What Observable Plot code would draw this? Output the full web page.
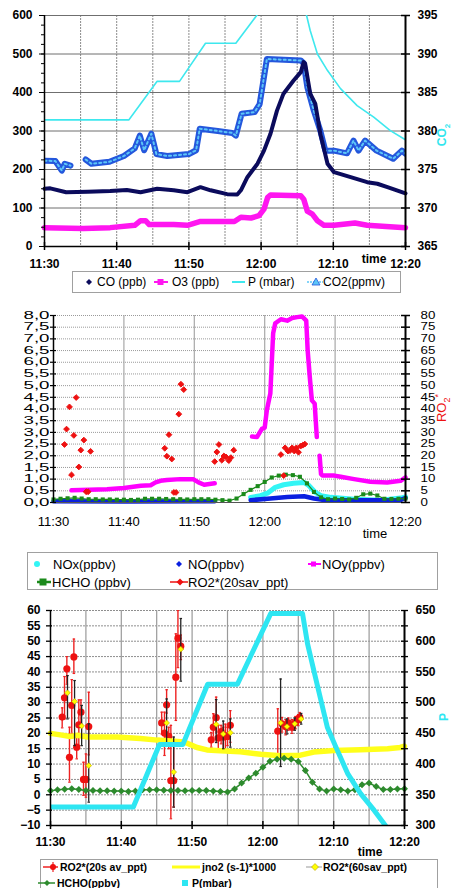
<!DOCTYPE html>
<html><head><meta charset="utf-8">
<script src="https://cdn.jsdelivr.net/npm/d3@7"></script>
<script src="https://cdn.jsdelivr.net/npm/@observablehq/plot@0.6"></script>
<style>
body{margin:0;background:#fff;font-family:"Liberation Sans",Arial,sans-serif;}
#wrap{position:relative;width:453px;height:888px;overflow:hidden;background:#fff;}
.abs{position:absolute;white-space:nowrap;line-height:1;}
.box{position:absolute;border:1px solid #a0a0a0;background:#fff;}
svg.mk{position:absolute;overflow:visible;}
</style></head>
<body><div id="wrap"></div>
<script>
// ---------- time: minutes after 11:30 ----------
const tickTimes = [0,10,20,30,40,50];

// ---------- Panel 1 ----------
const coT = [0,0.8,3,6,9.1,11.4,13.3,15.6,17.9,19.8,21.6,23,25.3,26.7,27.2,28.1,29.5,30.4,31.3,32.2,33.1,34.5,35.5,35.9,36.1,36.8,37.5,38.2,39.2,40.1,42.4,44.7,46.1,47.5,50];
const coV = [150,151,141,142,144,147,141,150,146,141,154,146,136,135,146,180,215,249,293,353,397,431,453,479,475,397,371,293,215,193,180,167,163,154,138];
const o3T = [0,5.4,9.1,12.5,13.3,14,14.5,17.9,19.8,21.6,26.3,27.2,28.6,29.7,30.4,30.9,31.3,35.5,35.9,36.4,37.1,37.8,38.7,40.1,43,44.7,47.3,50];
const o3V = [49,47,49,55,67,67,57,57,55,65,65,76,74,80,97,127,134,132,123,92,84,67,55,55,61,55,52,49];
const pT1 = [0,11.7,15.6,18.7,22.3,26.5,31.2,35.6,36.3,36.8,37.8,39.2,41,43.3,45.6,47.9,50];
const pV1 = [329,329,429,429,528,528,645,645,600,561,500,457,410,366,336,301,277];
const co2T = [0,1.5,2.4,2.8,3.6,4.6,5.7,6.5,9,11,12.5,13.2,13.8,14.8,15.5,17,20,21,21.5,24,26,26.5,27.3,29.1,29.8,30.4,30.8,35.5,35.9,36.4,37.3,38.2,38.9,40.1,41.9,42.8,43.5,44.4,46,48.3,49.5,50];
const co2V = [376.15,376.1,374.85,375.75,375.5,null,376.3,375.75,376.0,376.75,377.75,379.4,377.5,379.65,377.0,376.75,377.0,377.5,380.3,380.0,379.75,379.4,382.25,382.45,383.5,387.0,389.35,389.15,388.8,385.7,382.65,380.05,377.45,377.45,377.1,378.75,377.45,378.75,377.45,376.4,377.45,377.05];

// ---------- Panel 2 ----------
const noxT = [28,29.4,30.4,31.5,32.7,34.1,35.6,36.3,37.2,38,39.4,42.7,46.5,49.3,50];
const noxV = [0.22,0.29,0.40,0.65,0.76,0.82,0.86,0.72,0.43,0.29,0.22,0.14,0.10,0.19,0.24];
const noT = [0,10,22.9,25,28,30.8,33.2,35.6,37,38.4,42.7,49.3,50];
const noV = [0.05,0.04,0.05,null,0.10,0.17,0.24,0.27,0.17,0.11,0.10,0.11,0.19];
const noyT = [2.56,7.6,10,12.4,13.8,14.5,15.2,16.1,18,19.9,20.6,21.4,22.9,25,28.2,28.9,29.6,30.0,30.3,30.8,31.2,31.5,32.3,33.2,33.9,34.6,35.3,35.9,36.1,36.4,36.7,37.1,37.4,37.6,37.8,38.0,38.2,39.9,40.8,42.7,45.0,47.4,49.3,50];
const noyV = [0.52,0.57,0.62,0.72,0.74,0.86,0.93,0.96,1.0,0.99,0.86,0.76,0.82,null,2.82,2.8,3.15,3.2,3.94,4.66,7.24,7.67,7.84,7.78,7.89,7.93,7.96,7.78,6.52,5.38,4.37,4.23,2.8,null,2.0,1.22,1.15,1.15,1.1,1.0,0.89,0.86,0.93,1.07];
const hcho2T = [0,1,2,3,4,5,6,7,8,9,10,11,12,13,14,15,16,17,18,19,20,21,22,23,24,25,26,27,28,29,30,31,32,33,34,35,36,37,38,39,40,41,42,43,44,45,46,47,48,49,50];
const hcho2V = [0.13,0.16,0.18,0.2,0.17,0.14,0.14,0.13,0.13,0.12,0.12,0.11,0.12,0.16,0.16,0.16,0.15,0.14,0.14,0.13,0.14,0.14,0.14,0.12,0.10,0.08,0.17,0.36,0.54,0.70,0.88,1.07,1.15,1.19,1.17,1.10,0.82,0.45,0.22,0.14,0.17,0.15,0.13,0.20,0.35,0.38,0.30,0.16,0.15,0.16,0.17];
const ro2aT = [1.56,1.85,2.27,2.56,2.89,3.22,3.6,3.88,4.31,4.64,4.92,5.26,15.8,16.1,16.4,16.8,17.1,17.4,17.8,18.1,18.5,22.9,23.2,23.5,23.9,24.2,24.5,24.9,25.2,25.6,32.3,32.7,32.9,33.3,33.6,33.9,34.2,34.5,34.8,35.1,35.4,35.7];
const ro2aV = [24.8,31.4,40.9,11.8,28.7,44.9,15.2,22.4,26.7,4.6,4.6,21.9,23.2,19.8,29.0,18.6,4.3,4.3,37.8,50.6,48.3,17.5,21.6,24.8,18.1,19.9,19.5,17.9,19.2,22.4,20.5,11.5,23.4,22.0,22.2,23.4,22.0,23.4,21.5,24.1,24.5,25.0];

// ---------- Panel 3 ----------
const r20T  = [1.65,1.98,2.31,2.68,3.0,3.3,3.7,4.0,4.3,4.66,5.0,5.4,15.7,16.1,16.4,16.7,17.0,17.4,17.7,18.0,18.4,22.7,23.0,23.4,23.7,24.1,24.4,24.7,25.0,25.4,32.1,32.7,33.2,33.6,34.1,34.6,35.0,35.2];
const r20V  = [25.3,31.6,41.0,12.2,29.1,44.9,15.5,22.8,26.9,5.0,5.0,22.2,23.4,20.1,29.3,19.0,4.6,4.6,38.3,51.0,48.4,17.9,22.0,25.1,18.5,20.6,18.8,19.3,19.0,22.6,20.7,23.1,22.2,23.4,22.0,23.6,24.7,25.3];
const r20Lo = [21.8,24.7,36.0,4.1,20.0,39.5,11.7,16.0,22.0,-0.2,-0.8,13.0,19.8,12.8,26.6,15.0,-7.8,-4.0,24.2,41.4,44.0,15.5,18.8,20.4,15.0,16.6,15.0,14.0,16.0,17.1,13.3,20.4,19.5,21.0,20.0,21.5,22.5,23.5];
const r20Hi = [28.3,38.5,45.0,22.0,37.5,50.7,19.3,30.9,30.9,10.6,13.3,33.4,26.9,26.9,34.2,22.0,22.6,18.0,52.4,60.0,52.0,20.3,26.4,31.8,22.6,22.6,22.0,23.0,22.0,27.4,28.0,25.2,24.5,25.0,24.5,25.5,26.0,26.8];
const r60T  = [2.4,3.4,4.4,5.4,16.4,17.4,18.4,23.4,24.4,25.4,32.5,33.4,34.5,35.4];
const r60V  = [33.2,30.4,22.4,9.5,23.4,7.4,47.4,22.9,19.8,20.2,23.4,22.2,23.1,24.7];
const r60Lo = [24.7,16.0,16.0,-2.4,16.4,-4.0,37.0,17.0,15.0,15.5,9.2,19.8,21.0,23.0];
const r60Hi = [38.8,37.2,29.1,23.1,31.2,18.8,57.4,31.0,24.0,24.7,37.7,24.7,25.0,26.5];
const jT = [0,1.4,2.8,3.8,5.2,9.4,12.7,15.1,18.4,19.3,20.7,22.1,24,26.8,29.7,32.5,35.3,37.2,40,43.8,47.6,49.4,50];
const jV = [20.0,19.5,19.0,19.4,18.8,18.8,18.3,17.8,17.3,16.8,15.4,14.6,14.3,14.0,13.2,12.7,12.9,13.9,14.4,14.7,15.0,15.4,15.8];
const hcho3T = [0,1,2,3,4,5,6,7,8,9,10,11,12,13,14,15,16,17,18,19,20,21,22,23,24,25,26,27,28,29,30,31,32,33,34,35,36,37,38,39,40,41,42,43,44,45,46,47,48,49,50];
const hcho3V = [1.3,1.6,1.8,2.0,1.7,1.4,1.4,1.3,1.3,1.2,1.2,1.1,1.2,1.6,1.6,1.6,1.5,1.4,1.4,1.3,1.4,1.4,1.4,1.2,1.1,0.9,1.9,3.8,5.5,7.0,9.0,10.9,11.6,11.9,11.6,10.8,7.9,4.1,1.9,1.2,1.9,1.6,1.2,1.6,3.3,3.8,2.7,1.7,1.7,1.9,2.0];
const pT3 = [0,11.7,15.4,18.7,22.2,26.4,31.1,35.6,36.3,37.2,39.1,40.3,42,43.8,45.7,47.3];
const pV3 = [330,330,432,432,530,530,645,645,596,552,460,428,384,352,325,300];

// ---------- helpers ----------
const zip = (t, v, extra={}) => t.map((x,i)=>{const o={t:x, v:v[i]}; for (const k in extra) o[k]=extra[k][i]; return o;});
const fmtTime = m => { const tot = 690 + m; return `${Math.floor(tot/60)}:${String(Math.round(tot%60)).padStart(2,"0")}`; };
const nn = f => d => d.v == null ? NaN : f(d.v);
const wrap = document.getElementById("wrap");
function place(el, top){ el.style.position="absolute"; el.style.left="0px"; el.style.top=top+"px"; wrap.appendChild(el); }
function txt(x, y, html, css="", anchor="left"){
  const d=document.createElement("div"); d.className="abs"; d.innerHTML=html;
  d.style.cssText += `left:${x}px;top:${y}px;${css}`;
  d.style.transform = anchor==="center" ? "translate(-50%,-50%)" : "translateY(-50%)";
  wrap.appendChild(d); return d;
}
function box(x,y,w,h){const d=document.createElement("div");d.className="box";d.style.cssText+=`left:${x}px;top:${y}px;width:${w}px;height:${h}px;`;wrap.appendChild(d);}
function mk(x,y,inner){ const s=document.createElementNS("http://www.w3.org/2000/svg","svg"); s.setAttribute("class","mk"); s.setAttribute("width",40); s.setAttribute("height",16); s.style.left=(x-20)+"px"; s.style.top=(y-8)+"px"; s.innerHTML=inner; wrap.appendChild(s); }
const FONT = '"Liberation Sans", Arial, sans-serif';

// ================= Panel 1 =================
{
  const W=453,H=272,mt=15,mb=26,ml=44,mr=48;
  const kx=(W-ml-mr)/50, ky=(H-mt-mb)/600;
  const co=zip(coT,coV), o3=zip(o3T,o3V), p1=zip(pT1,pV1), co2=zip(co2T,co2V);
  const co2y = nn(v => (v-365)*20);
  const svg = Plot.plot({
    width:W,height:H,marginTop:mt,marginBottom:mb,marginLeft:ml,marginRight:mr,
    x:{domain:[0,50]}, y:{domain:[0,600]},
    style:{fontFamily:FONT,fontSize:"12px",background:"transparent",overflow:"visible",color:"#000"},
    marks:[
      Plot.ruleX(d3.range(5,50,5),{stroke:"#8c8c8c",strokeWidth:1,strokeDasharray:"2,1"}),
      Plot.ruleY(d3.range(100,601,100),{stroke:"#6f6f6f",strokeWidth:1}),
      Plot.line(p1,{x:"t",y:"v",stroke:"#3ee8ee",strokeWidth:1.6,clip:true}),
      Plot.line(co2,{x:"t",y:co2y,stroke:"#2457dc",strokeWidth:6,clip:true}),
      Plot.line(co2,{x:"t",y:co2y,stroke:"#5cc6f7",strokeWidth:2,strokeDasharray:"2,3",clip:true}),
      Plot.line(co,{x:"t",y:"v",stroke:"#0b0b5c",strokeWidth:4}),
      Plot.line(o3,{x:"t",y:"v",stroke:"#ff16f0",strokeWidth:5.5}),
      Plot.ruleX([0],{stroke:"#000",strokeWidth:1.5}),
      Plot.ruleX([50],{stroke:"#000",strokeWidth:2}),
      Plot.ruleY([0],{stroke:"#000",strokeWidth:1.5}),
      Plot.axisY({anchor:"left",ticks:d3.range(0,601,25),tickSize:3,tickFormat:()=>"",label:null}),
      Plot.axisY({anchor:"left",ticks:d3.range(0,601,100),tickSize:5,tickPadding:7,fontWeight:"bold",fontSize:12,label:null}),
      Plot.ruleY(d3.range(0,601,100),{x1:50-4/kx,x2:50+5/kx,stroke:"#000",strokeWidth:1.5}),
      Plot.axisY({anchor:"right",ticks:d3.range(0,601,100),tickSize:0,tickPadding:12,tickFormat:d=>365+d/20,fontWeight:"bold",fontSize:12,label:null}),
      Plot.ruleX(tickTimes,{y1:-4/ky,y2:4/ky,stroke:"#000",strokeWidth:1.5}),
      Plot.axisX({ticks:tickTimes,tickSize:0,tickPadding:13,tickFormat:fmtTime,fontWeight:"bold",fontSize:12,label:null})
    ]
  });
  place(svg,0);
  txt(374,259,"time","font-weight:bold;font-size:12px;","center");
  const c=txt(444,135,"CO<sub style='font-size:8px'>2</sub>","color:#33e6ee;font-weight:bold;font-size:12px;","center");
  c.style.transform="translate(-50%,-50%) rotate(-90deg)";
  box(72,271,327,20);
  mk(89,282,'<path d="M20,5 L23,8 L20,11 L17,8Z" fill="#0b0b5c"/>');
  txt(97,282,"CO (ppb)","font-size:12px;");
  mk(161,282,'<line x1="13" y1="8" x2="27" y2="8" stroke="#ff16f0" stroke-width="2"/><rect x="16.5" y="5" width="6" height="6" fill="#ff16f0"/>');
  txt(172,282,"O3 (ppb)","font-size:12px;");
  mk(239,282,'<line x1="13" y1="8" x2="26" y2="8" stroke="#3ee8ee" stroke-width="2"/>');
  txt(248,282,"P (mbar)","font-size:12px;");
  mk(316,282,'<line x1="11" y1="8" x2="27" y2="8" stroke="#5cc6f7" stroke-width="1.5" stroke-dasharray="2,1"/><path d="M20,4 L24,11 L16,11Z" fill="#5cc6f7" stroke="#2457dc" stroke-width="0.8"/>');
  txt(323,282,"CO2(ppmv)","font-size:12px;");
}

// ================= Panel 2 =================
{
  const W=453,H=240,mt=15,mb=38,ml=53,mr=48, top=300;
  const kx=(W-ml-mr)/50, ky=(H-mt-mb)/8;
  const nox=zip(noxT,noxV), no=zip(noT,noV), noy=zip(noyT,noyV), hc=zip(hcho2T,hcho2V), ro2=zip(ro2aT,ro2aV);
  const yTicks=d3.range(0,8.01,0.5);
  const svg = Plot.plot({
    width:W,height:H,marginTop:mt,marginBottom:mb,marginLeft:ml,marginRight:mr,
    x:{domain:[0,50]}, y:{domain:[0,8]},
    style:{fontFamily:FONT,fontSize:"13px",background:"transparent",overflow:"visible",color:"#000"},
    marks:[
      Plot.ruleY(yTicks.slice(1),{stroke:"#9a9a9a",strokeWidth:1,strokeDasharray:"1,1"}),
      Plot.ruleX([10,20,30,40],{stroke:"#a8a8a8",strokeWidth:1.2}),
      Plot.line(nox,{x:"t",y:nn(v=>v),stroke:"#33f5f5",strokeWidth:5}),
      Plot.line(no,{x:"t",y:nn(v=>v),stroke:"#0a1fe0",strokeWidth:4.5}),
      Plot.line(noy,{x:"t",y:nn(v=>v),stroke:"#ff00ff",strokeWidth:4.5}),
      Plot.line(hc,{x:"t",y:"v",stroke:"#1b8a1b",strokeWidth:1.2}),
      Plot.dot(hc,{x:"t",y:"v",symbol:"square",r:2.3,fill:"#1b8a1b"}),
      Plot.dot(ro2,{x:"t",y:d=>d.v/10,symbol:"diamond2",r:2.6,fill:"#ee1111",stroke:"#ee1111",strokeWidth:1}),
      Plot.ruleX([0],{stroke:"#000",strokeWidth:1.5}),
      Plot.ruleX([50],{stroke:"#000",strokeWidth:2}),
      Plot.ruleY([0],{stroke:"#555",strokeWidth:1.2}),
      Plot.ruleY(yTicks,{x1:-3/kx,x2:3/kx,stroke:"#000",strokeWidth:1.2}),
      Plot.axisY({anchor:"left",ticks:yTicks,tickSize:0,tickPadding:4,tickFormat:d=>d.toFixed(1).replace(".",","),fontSize:10,label:null}),
      Plot.ruleY(yTicks,{x1:50-4/kx,x2:50+5/kx,stroke:"#000",strokeWidth:1.5}),
      Plot.axisY({anchor:"right",ticks:yTicks,tickSize:0,tickPadding:15,tickFormat:d=>Math.round(d*10),fontSize:10,label:null}),
      Plot.axisX({ticks:tickTimes,tickSize:0,tickPadding:14,tickFormat:fmtTime,fontSize:13,label:null})
    ]
  });
  // widen the compressed-looking y tick labels
  svg.querySelectorAll('g[aria-label="y-axis tick label"]').forEach(g => {
    const anchor = g.getAttribute("text-anchor");
    g.querySelectorAll("text").forEach(t => {
      const n = t.textContent.length;
      t.setAttribute("lengthAdjust","spacingAndGlyphs");
      t.setAttribute("textLength", anchor === "end" ? 26 : 7.4*n);
    });
  });
  place(svg,top);
  txt(375,533,"time","font-size:13px;","center");
  const r=txt(443,408,"RO<sub style='font-size:9px'>2</sub><sup style='font-size:9px'>*</sup>","color:#ee1111;font-size:13px;","center");
  r.style.transform="translate(-50%,-50%) rotate(-90deg)";
  box(27,552,409,36);
  mk(37,564,'<circle cx="20" cy="8" r="3" fill="#33f5f5"/>');
  txt(53,564,"NOx(ppbv)","font-size:13px;");
  mk(179,564,'<path d="M20,5 L23,8 L20,11 L17,8Z" fill="#0a1fe0"/>');
  txt(188,564,"NO(ppbv)","font-size:13px;");
  mk(314,564,'<line x1="14" y1="8" x2="27" y2="8" stroke="#ff00ff" stroke-width="2"/><rect x="17" y="5.5" width="5" height="5" fill="#ff00ff"/>');
  txt(322,564,"NOy(ppbv)","font-size:13px;");
  mk(43,582,'<line x1="14" y1="8" x2="28" y2="8" stroke="#1b8a1b" stroke-width="2.5"/><rect x="16.5" y="4.5" width="7" height="7" fill="#1b8a1b"/>');
  txt(52,582,"HCHO (ppbv)","font-size:13px;");
  mk(180,582,'<line x1="10" y1="8" x2="28" y2="8" stroke="#ee1111" stroke-width="1.5"/><path d="M20,4.5 L23.5,8 L20,11.5 L16.5,8Z" fill="#ee1111"/>');
  txt(188,582,"RO2*(20sav_ppt)","font-size:13px;");
}

// ================= Panel 3 =================
{
  const W=453,H=263,mt=15,mb=33,ml=50,mr=49, top=595;
  const kx=(W-ml-mr)/50, ky=(H-mt-mb)/70;
  const pY = nn(v => (v-300)/5 - 10);
  const r20=zip(r20T,r20V,{lo:r20Lo,hi:r20Hi}), r60=zip(r60T,r60V,{lo:r60Lo,hi:r60Hi});
  const jn=zip(jT,jV), hc=zip(hcho3T,hcho3V), p3=zip(pT3,pV3);
  const yTicks=d3.range(-10,60.1,5);
  const cap=0.18;
  const svg = Plot.plot({
    width:W,height:H,marginTop:mt,marginBottom:mb,marginLeft:ml,marginRight:mr,
    x:{domain:[0,50]}, y:{domain:[-10,60]},
    style:{fontFamily:FONT,fontSize:"12px",background:"transparent",overflow:"visible",color:"#000"},
    marks:[
      Plot.ruleY(yTicks.slice(1),{stroke:"#8e8e8e",strokeWidth:1,strokeDasharray:"2,1"}),
      Plot.ruleX(d3.range(5,50,5),{stroke:"#9a9a9a",strokeWidth:1.2}),
      Plot.ruleX(r20,{x:"t",y1:"lo",y2:"hi",stroke:"#ee2222",strokeWidth:1.4,clip:true}),
      Plot.link(r20,{x1:d=>d.t-cap,x2:d=>d.t+cap,y1:"hi",y2:"hi",stroke:"#ee2222",strokeWidth:1.2,clip:true}),
      Plot.link(r20,{x1:d=>d.t-cap,x2:d=>d.t+cap,y1:"lo",y2:"lo",stroke:"#ee2222",strokeWidth:1.2,clip:true}),
      Plot.dot(r20,{x:"t",y:"v",r:3.6,fill:"#ee1111"}),
      Plot.line(jn,{x:"t",y:"v",stroke:"#ffff1a",strokeWidth:5.5}),
      Plot.ruleX(r60,{x:"t",y1:"lo",y2:"hi",stroke:"#222",strokeWidth:1.3,clip:true}),
      Plot.link(r60,{x1:d=>d.t-cap,x2:d=>d.t+cap,y1:"hi",y2:"hi",stroke:"#222",strokeWidth:1.2,clip:true}),
      Plot.link(r60,{x1:d=>d.t-cap,x2:d=>d.t+cap,y1:"lo",y2:"lo",stroke:"#222",strokeWidth:1.2,clip:true}),
      Plot.dot(r60,{x:"t",y:"v",symbol:"diamond2",r:2.6,fill:"#ffff00",stroke:"#b8a000",strokeWidth:0.6}),
      Plot.line(hc,{x:"t",y:"v",stroke:"#2e8b2e",strokeWidth:1.5}),
      Plot.dot(hc,{x:"t",y:"v",symbol:"diamond2",r:2.2,fill:"#2e8b2e",stroke:"#2e8b2e"}),
      Plot.line(p3,{x:"t",y:pY,stroke:"#2ee6f2",strokeWidth:5,clip:true}),
      Plot.ruleX([0],{stroke:"#000",strokeWidth:1.5}),
      Plot.ruleX([50],{stroke:"#000",strokeWidth:2}),
      Plot.ruleY([-10],{stroke:"#000",strokeWidth:1.5}),
      Plot.ruleY(yTicks,{x1:-4/kx,x2:2/kx,stroke:"#000",strokeWidth:1.3}),
      Plot.axisY({anchor:"left",ticks:yTicks,tickSize:0,tickPadding:10,fontWeight:"bold",fontSize:12,label:null}),
      Plot.ruleY(yTicks,{x1:50-3/kx,x2:50+4/kx,stroke:"#000",strokeWidth:1.3}),
      Plot.axisY({anchor:"right",ticks:d3.range(-10,60.1,10),tickSize:0,tickPadding:11,tickFormat:d=>300+(d+10)*5,fontWeight:"bold",fontSize:12,label:null}),
      Plot.ruleX(tickTimes,{y1:-10-4/ky,y2:-10+4/ky,stroke:"#000",strokeWidth:1.5}),
      Plot.axisX({ticks:tickTimes,tickSize:0,tickPadding:12,tickFormat:fmtTime,fontWeight:"bold",fontSize:12,label:null})
    ]
  });
  place(svg,top);
  txt(370,852,"time","font-weight:bold;font-size:12px;","center");
  const p=txt(444,717,"P","color:#2ee6f2;font-weight:bold;font-size:12px;","center");
  p.style.transform="translate(-50%,-50%) rotate(-90deg)";
  box(40,859,396,34);
  const f="font-size:10.5px;font-weight:bold;";
  mk(50,867,'<line x1="13" y1="8" x2="28" y2="8" stroke="#ee2222" stroke-width="1.5"/><line x1="23" y1="3" x2="23" y2="13" stroke="#ee2222" stroke-width="1.2"/><circle cx="23" cy="8" r="3" fill="#ee1111"/>');
  txt(60,867,"RO2*(20s av_ppt)",f);
  mk(186,867,'<line x1="6" y1="8" x2="34" y2="8" stroke="#ffff1a" stroke-width="3"/>');
  txt(202,867,"jno2 (s-1)*1000",f);
  mk(314,867,'<line x1="12" y1="8" x2="28" y2="8" stroke="#999" stroke-width="1"/><path d="M21,4.5 L24.5,8 L21,11.5 L17.5,8Z" fill="#ffff00" stroke="#b8a000" stroke-width="0.6"/>');
  txt(323,867,"RO2*(60sav_ppt)",f);
  mk(46,883,'<line x1="12" y1="8" x2="29" y2="8" stroke="#2e8b2e" stroke-width="1.5"/><path d="M21,5 L24,8 L21,11 L18,8Z" fill="#2e8b2e"/>');
  txt(57,883,"HCHO(ppbv)",f);
  mk(185,883,'<rect x="17" y="5" width="6" height="6" fill="#2ee6f2"/>');
  txt(192,883,"P(mbar)",f);
}
</script>
</body></html>
